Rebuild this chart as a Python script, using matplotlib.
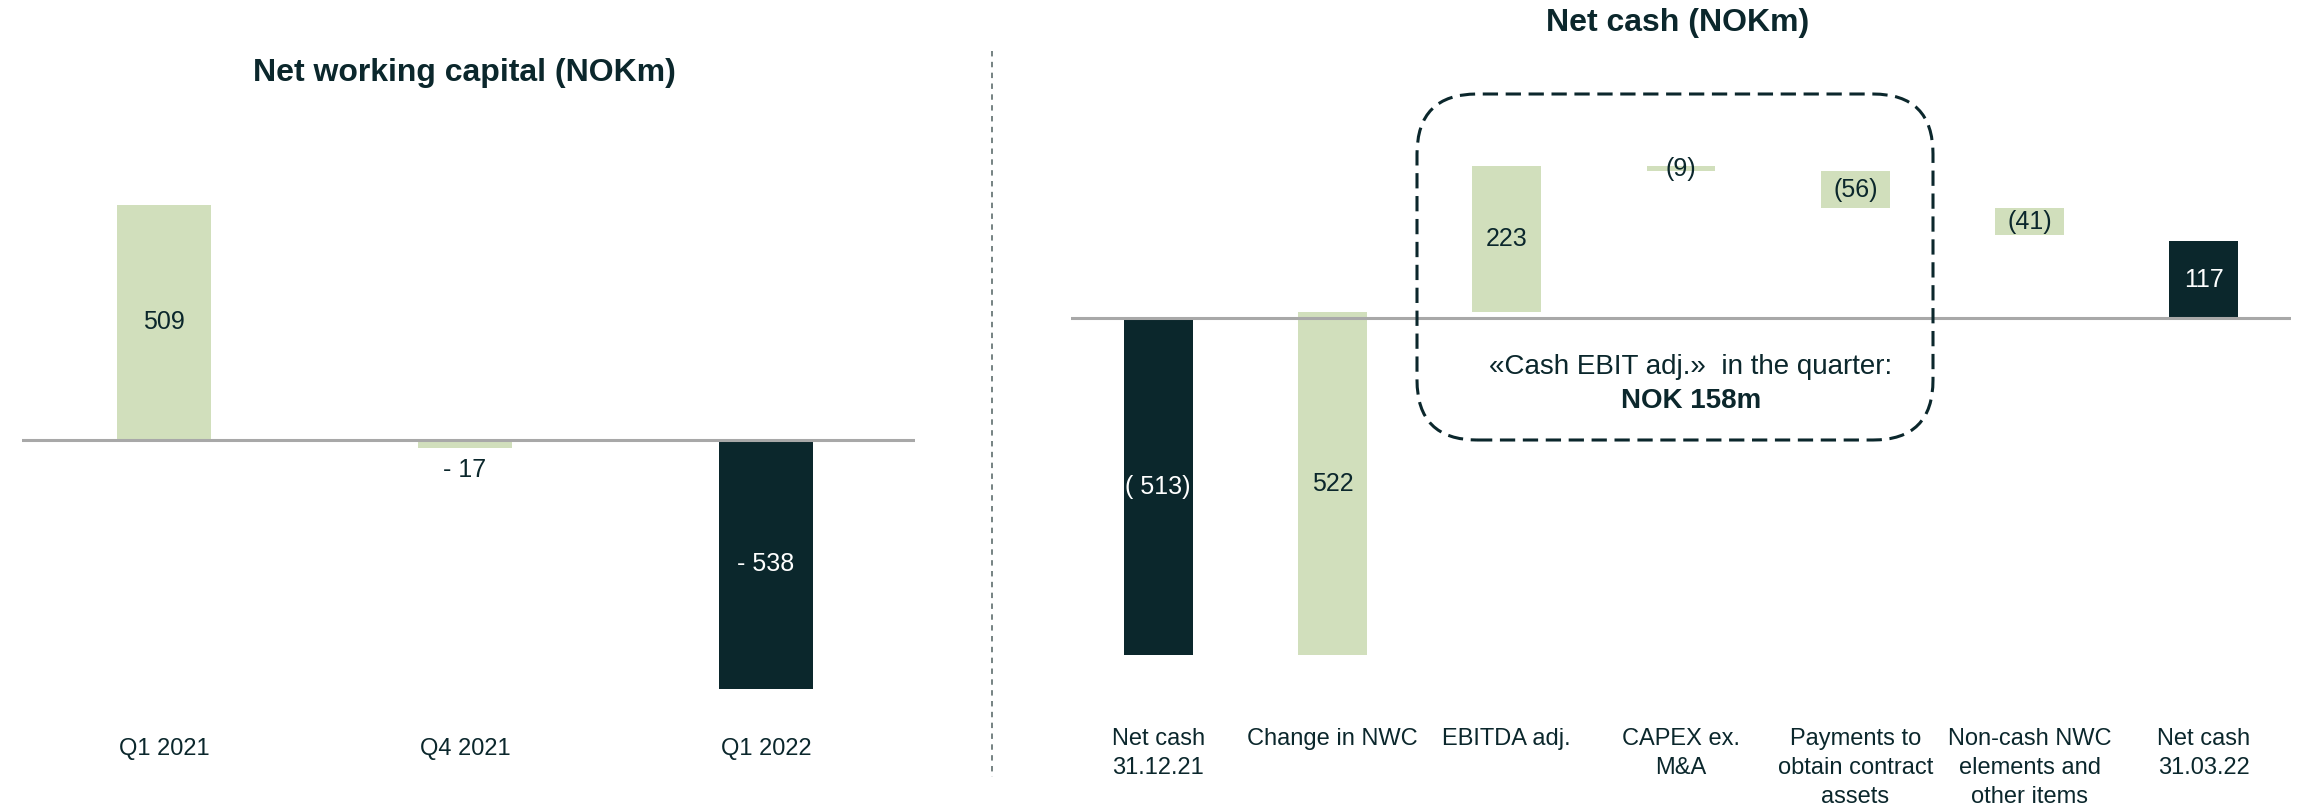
import matplotlib.pyplot as plt
from matplotlib.patches import FancyBboxPatch
from matplotlib.lines import Line2D

plt.rcParams['font.family'] = ['Liberation Sans', 'DejaVu Sans']

GREEN = '#d1dfbc'
DARK = '#0b272c'
GREY = '#a8a8a8'

# left chart: net working capital
nwc_labels = ['Q1 2021', 'Q4 2021', 'Q1 2022']
nwc_values = [509, -17, -538]
nwc_text = ['509', '- 17', '- 538']
nwc_colors = [GREEN, GREEN, DARK]

# right chart: net cash bridge
nc_labels = ['Net cash\n31.12.21', 'Change in NWC', 'EBITDA adj.', 'CAPEX ex.\nM&A',
             'Payments to\nobtain contract\nassets', 'Non-cash NWC\nelements and\nother items',
             'Net cash\n31.03.22']
nc_start = -513
nc_steps = [522, 223, -9, -56, -41]
nc_end = 117
nc_text = ['( 513)', '522', '223', '(9)', '(56)', '(41)', '117']

W, H = 2300, 806
fig = plt.figure(figsize=(W / 100, H / 100), dpi=100)


def px_axes(x0, x1, y0, y1):
    # pixel box (top-left origin) -> axes
    return fig.add_axes([x0 / W, 1 - y1 / H, (x1 - x0) / W, (y1 - y0) / H])


def clean(ax):
    for s in ax.spines.values():
        s.set_visible(False)
    ax.set_yticks([])
    ax.tick_params(axis='x', length=0, pad=14, labelsize=17, labelcolor=DARK)
    ax.axhline(0, color=GREY, lw=2.2, zorder=3)


# ---- left
ax1 = px_axes(22, 915, 100, 719)
ax1.set_xlim(-0.472, 2.495)
ax1.set_ylim(-(719 - 440) / 0.462, (440 - 100) / 0.462)
clean(ax1)
x1 = list(range(len(nwc_values)))
ax1.bar(x1, nwc_values, width=0.31, color=nwc_colors, zorder=2)
ax1.set_xticks(x1)
ax1.set_xticklabels(nwc_labels)
for i, (v, t, c) in enumerate(zip(nwc_values, nwc_text, nwc_colors)):
    if abs(v) < 60:
        ax1.text(i, v - 22, t, ha='center', va='top', fontsize=18, color=DARK)
    else:
        ax1.text(i, v / 2, t, ha='center', va='center', fontsize=18,
                 color='white' if c == DARK else DARK)
fig.text(464 / W, 1 - 73 / H, 'Net working capital (NOKm)', ha='center', va='center',
         fontsize=23, fontweight='bold', color=DARK)

# ---- right
ax2 = px_axes(1071, 2291, 40, 709)
ax2.set_xlim(-0.5, 6.5)
ax2.set_ylim(-(709 - 318) / 0.657, (318 - 40) / 0.657)
clean(ax2)

bottoms = [0]
heights = [nc_start]
level = nc_start
for s in nc_steps:
    bottoms.append(level)
    heights.append(s)
    level += s
bottoms.append(0)
heights.append(nc_end)
colors2 = [DARK] + [GREEN] * len(nc_steps) + [DARK]
x2 = list(range(len(nc_labels)))
ax2.bar(x2, heights, bottom=bottoms, width=0.395, color=colors2, zorder=2)
ax2.set_xticks(x2)
ax2.set_xticklabels(nc_labels, va='top', ha='center', linespacing=1.4)
for i in x2:
    ax2.text(i, bottoms[i] + heights[i] / 2, nc_text[i], ha='center', va='center',
             fontsize=18, color='white' if colors2[i] == DARK else DARK, zorder=4)
fig.text(1678 / W, 1 - 23 / H, 'Net cash (NOKm)', ha='center', va='center',
         fontsize=23, fontweight='bold', color=DARK)

# dashed callout box (in inches so corners stay round)
box = FancyBboxPatch((14.17 + 0.6, 3.66 + 0.6), 5.16 - 1.2, 3.46 - 1.2,
                     boxstyle='round,pad=0.6', transform=fig.dpi_scale_trans,
                     fill=False, edgecolor=DARK, lw=2.2, linestyle=(0, (5, 2.5)), zorder=5)
fig.add_artist(box)
fig.text(1691 / W, 1 - 367 / H, '\u00abCash EBIT adj.\u00bb  in the quarter:', ha='center',
         va='center', fontsize=20, color=DARK)
fig.text(1691 / W, 1 - 401 / H, 'NOK 158m', ha='center', va='center', fontsize=20,
         fontweight='bold', color=DARK)

# vertical divider
fig.add_artist(Line2D([992 / W, 992 / W], [1 - 51 / H, 1 - 777 / H], transform=fig.transFigure,
                      color='#6a7878', lw=1.3, linestyle=(0, (3, 3))))

fig.savefig('out.png', dpi=100, facecolor='white')
